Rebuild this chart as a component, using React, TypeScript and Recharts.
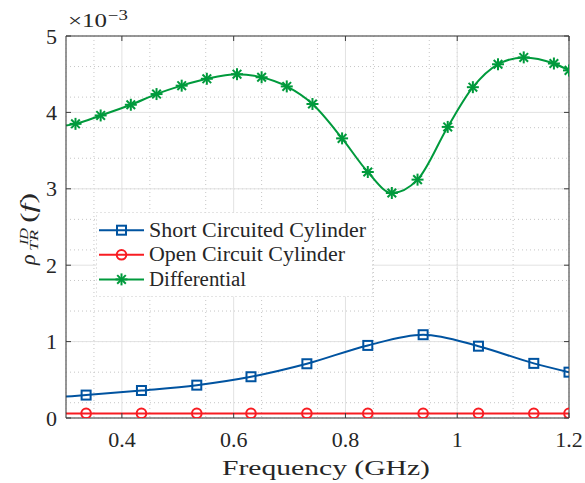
import React from "react"
import { LineChart, Line, XAxis, YAxis, CartesianGrid, Legend, Customized } from "recharts"

// values are in units of 1e-3 (the axis carries the x10^-3 multiplier)
// each series starts with its value at the left axis edge (0.3 GHz), markers follow
const shortFreq = [0.3, 0.336, 0.435, 0.534, 0.631, 0.731, 0.84, 0.939, 1.038, 1.137, 1.2]
const shortValue = [0.28, 0.3, 0.36, 0.43, 0.54, 0.71, 0.95, 1.09, 0.94, 0.715, 0.6]

const openFreq = [0.3, 0.336, 0.435, 0.534, 0.631, 0.731, 0.84, 0.939, 1.038, 1.137, 1.2]
const openValue = [0.06, 0.06, 0.06, 0.06, 0.06, 0.06, 0.06, 0.06, 0.06, 0.06, 0.06]

const diffFreq = [0.3, 0.317, 0.362, 0.416, 0.462, 0.507, 0.552, 0.606, 0.65, 0.695, 0.741, 0.794, 0.84, 0.883, 0.929, 0.983, 1.028, 1.073, 1.119, 1.173, 1.2]
const diffValue = [3.83, 3.85, 3.96, 4.1, 4.24, 4.35, 4.44, 4.5, 4.46, 4.34, 4.11, 3.66, 3.22, 2.945, 3.12, 3.81, 4.33, 4.63, 4.72, 4.64, 4.55]

const xTicks = [0.4, 0.6, 0.8, 1, 1.2]
const yTicks = [0, 1, 2, 3, 4, 5]
const xMinorTicks = [0.3, 0.35, 0.4, 0.45, 0.5, 0.55, 0.6, 0.65, 0.7, 0.75, 0.8, 0.85, 0.9, 0.95, 1, 1.05, 1.1, 1.15, 1.2]
const yMinorTicks = [0, 0.2, 0.4, 0.6, 0.8, 1, 1.2, 1.4, 1.6, 1.8, 2, 2.2, 2.4, 2.6, 2.8, 3, 3.2, 3.4, 3.6, 3.8, 4, 4.2, 4.4, 4.6, 4.8, 5]

const seriesNames = ["Short Circuited Cylinder", "Open Circuit Cylinder", "Differential"]

const toPoints = (freq: number[], value: number[]) => freq.map((f, i) => ({ f, v: value[i] }))

const shortData = toPoints(shortFreq, shortValue)
const openData = toPoints(openFreq, openValue)
const diffData = toPoints(diffFreq, diffValue)

const BLUE = "#0053a0"
const RED = "#f81c22"
const GREEN = "#009a3c"
const AXIS = "#3c3c3c"
const FONT = "'Liberation Serif', 'Times New Roman', serif"

type MarkerKind = "square" | "circle" | "star"

const Marker = ({ kind, cx, cy, color }: { kind: MarkerKind; cx: number; cy: number; color: string }) => {
  if (kind === "square") {
    return <rect x={cx - 4.5} y={cy - 4.5} width={9} height={9} fill="none" stroke={color} strokeWidth={2} />
  }
  if (kind === "circle") {
    return <circle cx={cx} cy={cy} r={4.8} fill="none" stroke={color} strokeWidth={2} />
  }
  const r = 6
  const d = 4.3
  return (
    <g stroke={color} strokeWidth={2}>
      <line x1={cx - r} y1={cy} x2={cx + r} y2={cy} />
      <line x1={cx} y1={cy - r} x2={cx} y2={cy + r} />
      <line x1={cx - d} y1={cy - d} x2={cx + d} y2={cy + d} />
      <line x1={cx - d} y1={cy + d} x2={cx + d} y2={cy - d} />
    </g>
  )
}

const markerOf: Record<string, MarkerKind> = {
  [seriesNames[0]]: "square",
  [seriesNames[1]]: "circle",
  [seriesNames[2]]: "star",
}

// the first sample is the edge value, not a marker
const makeDot = (kind: MarkerKind, color: string) => (props: any) => {
  const { cx, cy, index } = props
  if (index === 0 || cx == null || cy == null) return <g key={`d-${index}`} />
  return (
    <g key={`d-${index}`}>
      <Marker kind={kind} cx={cx} cy={cy} color={color} />
    </g>
  )
}

const BottomTick = (props: any) => {
  const { x, y, payload } = props
  return (
    <g>
      <line x1={x} y1={y} x2={x} y2={y - 5} stroke={AXIS} />
      <text x={x} y={y + 29} textAnchor="middle" fontFamily={FONT} fontSize={22} fill="#262626">
        {payload.value}
      </text>
    </g>
  )
}

const TopTick = (props: any) => {
  const { x, y } = props
  return <line x1={x} y1={y} x2={x} y2={y + 5} stroke={AXIS} />
}

const LeftTick = (props: any) => {
  const { x, y, payload } = props
  return (
    <g>
      <line x1={x} y1={y} x2={x + 5} y2={y} stroke={AXIS} />
      <text x={x - 9} y={y + 7.5} textAnchor="end" fontFamily={FONT} fontSize={22} fill="#262626">
        {payload.value}
      </text>
    </g>
  )
}

const RightTick = (props: any) => {
  const { x, y } = props
  return <line x1={x} y1={y} x2={x - 5} y2={y} stroke={AXIS} />
}

const Labels = () => (
  <g fontFamily={FONT} fill="#262626">
    <text x={68} y={27} fontSize={19} textLength={39} lengthAdjust="spacingAndGlyphs">
      ×10
    </text>
    <text x={108} y={20} fontSize={14} textLength={20} lengthAdjust="spacingAndGlyphs">
      −3
    </text>
    <text x={326} y={475} fontSize={22} textAnchor="middle" textLength={208} lengthAdjust="spacingAndGlyphs">
      Frequency (GHz)
    </text>
    <g transform="translate(35,265) rotate(-90)">
      <text x={0} y={0} fontSize={22} fontStyle="italic">
        ρ
      </text>
      <text x={20} y={-7} fontSize={13} fontStyle="italic" textLength={17} lengthAdjust="spacingAndGlyphs">
        ID
      </text>
      <text x={14} y={3} fontSize={13} fontStyle="italic" textLength={21} lengthAdjust="spacingAndGlyphs">
        TR
      </text>
      <text x={42} y={0} fontSize={22} textLength={30} lengthAdjust="spacingAndGlyphs">
        (<tspan fontStyle="italic">f</tspan>)
      </text>
    </g>
  </g>
)

const legendTextWidth: Record<string, number> = {
  [seriesNames[0]]: 217,
  [seriesNames[1]]: 196,
  [seriesNames[2]]: 97,
}

const LegendBox = (props: any) => {
  const items = [...(props.payload || [])].sort(
    (a: any, b: any) => seriesNames.indexOf(a.value) - seriesNames.indexOf(b.value)
  )
  return (
    <svg width={277} height={85} style={{ display: "block" }}>
      <rect x={0.5} y={0.5} width={276} height={84} fill="#fff" stroke="#c8c8c8" strokeDasharray="1 3" />
      {items.map((item: any, i: number) => {
        const cy = 18.2 + i * 24.6
        const name = item.value as string
        return (
          <g key={name}>
            <line x1={3} y1={cy} x2={48} y2={cy} stroke={item.color} strokeWidth={2} />
            <Marker kind={markerOf[name]} cx={25.5} cy={cy} color={item.color} />
            <text
              x={53}
              y={cy + 6.6}
              fontFamily={FONT}
              fontSize={20}
              fill="#262626"
              textLength={legendTextWidth[name]}
              lengthAdjust="spacingAndGlyphs"
            >
              {name}
            </text>
          </g>
        )
      })}
    </svg>
  )
}

export default function App() {
  return (
    <div style={{ position: "absolute", left: 0, top: 0, width: 585, height: 483, background: "#fff" }}>
      <LineChart width={585} height={483} margin={{ top: 35, right: 15, bottom: 64, left: 65 }}>
        <XAxis xAxisId="minor" type="number" dataKey="f" domain={[0.3, 1.2]} ticks={xMinorTicks} hide allowDataOverflow />
        <YAxis yAxisId="minor" type="number" domain={[0, 5]} ticks={yMinorTicks} hide allowDataOverflow />
        <CartesianGrid xAxisId="minor" yAxisId="minor" stroke="#c6c6c6" strokeDasharray="1 3" />
        <CartesianGrid stroke="#e2e2e2" />

        <XAxis
          type="number"
          dataKey="f"
          domain={[0.3, 1.2]}
          ticks={xTicks}
          height={1}
          tickSize={0}
          tickMargin={0}
          tickLine={false}
          axisLine={{ stroke: AXIS }}
          tick={<BottomTick />}
          allowDataOverflow
          interval={0}
        />
        <XAxis
          xAxisId="top"
          orientation="top"
          type="number"
          dataKey="f"
          domain={[0.3, 1.2]}
          ticks={xTicks}
          height={1}
          tickSize={0}
          tickMargin={0}
          tickLine={false}
          axisLine={{ stroke: AXIS }}
          tick={<TopTick />}
          allowDataOverflow
          interval={0}
        />
        <YAxis
          type="number"
          domain={[0, 5]}
          ticks={yTicks}
          width={1}
          tickSize={0}
          tickMargin={0}
          tickLine={false}
          axisLine={{ stroke: AXIS }}
          tick={<LeftTick />}
          allowDataOverflow
          interval={0}
        />
        <YAxis
          yAxisId="right"
          orientation="right"
          type="number"
          domain={[0, 5]}
          ticks={yTicks}
          width={1}
          tickSize={0}
          tickMargin={0}
          tickLine={false}
          axisLine={{ stroke: AXIS }}
          tick={<RightTick />}
          allowDataOverflow
          interval={0}
        />

        <Line
          data={shortData}
          dataKey="v"
          name={seriesNames[0]}
          type="monotone"
          stroke={BLUE}
          strokeWidth={2}
          dot={makeDot("square", BLUE)}
          activeDot={false}
          isAnimationActive={false}
        />
        <Line
          data={openData}
          dataKey="v"
          name={seriesNames[1]}
          type="monotone"
          stroke={RED}
          strokeWidth={2}
          dot={makeDot("circle", RED)}
          activeDot={false}
          isAnimationActive={false}
        />
        <Line
          data={diffData}
          dataKey="v"
          name={seriesNames[2]}
          type="monotone"
          stroke={GREEN}
          strokeWidth={2}
          dot={makeDot("star", GREEN)}
          activeDot={false}
          isAnimationActive={false}
        />

        <Legend
          layout="vertical"
          align="center"
          verticalAlign="middle"
          content={<LegendBox />}
          wrapperStyle={{ left: 96, top: 212, width: 277, height: 85 }}
        />
        <Customized component={Labels} />
      </LineChart>
    </div>
  )
}
